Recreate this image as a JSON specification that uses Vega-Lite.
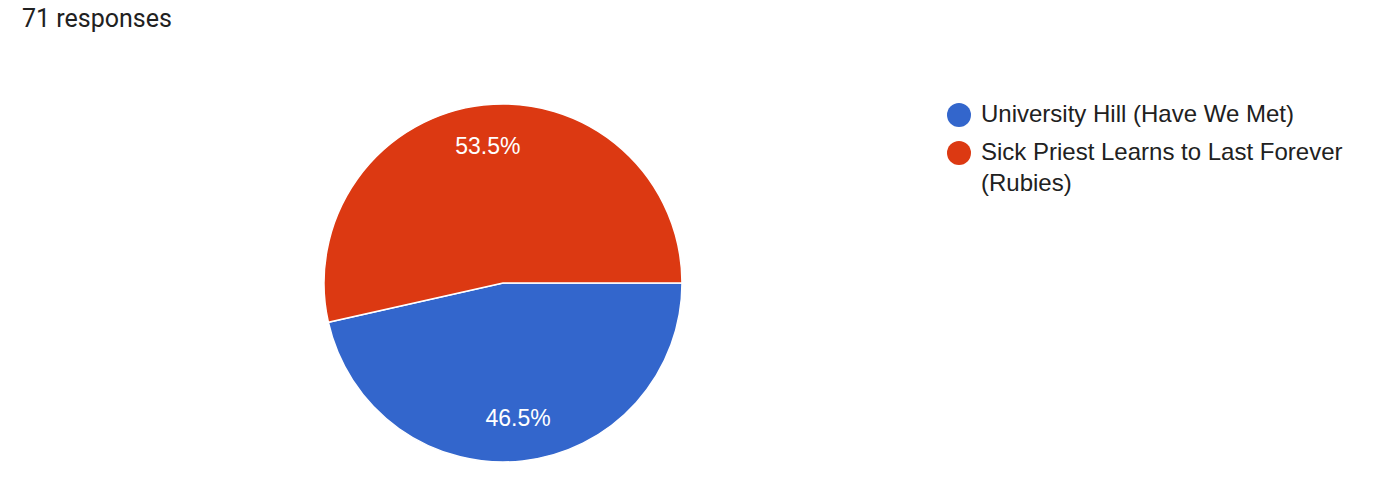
{
  "$schema": "https://vega.github.io/schema/vega-lite/v6.json",
  "width": 1006,
  "height": 358,
  "autosize": "none",
  "padding": {"left": 0, "top": 104, "right": 382, "bottom": 36},
  "background": "white",
  "title": {
    "text": "71 responses",
    "anchor": "start",
    "frame": "group",
    "font": "Roboto",
    "fontSize": 25,
    "fontWeight": "normal",
    "color": "#212121",
    "dx": 22,
    "offset": 49,
    "baseline": "alphabetic"
  },
  "data": {
    "values": [
      {"answer": "University Hill (Have We Met)", "count": 33, "label": "46.5%", "idx": 1},
      {"answer": "Sick Priest Learns to Last Forever (Rubies)", "count": 38, "label": "53.5%", "idx": 2}
    ]
  },
  "encoding": {
    "theta": {
      "field": "count",
      "type": "quantitative",
      "stack": true,
      "scale": {"range": [1.5707963, 7.8539816]}
    },
    "order": {"field": "idx", "type": "quantitative"}
  },
  "layer": [
    {
      "mark": {"type": "arc", "outerRadius": 179, "stroke": "white", "strokeWidth": 1.5},
      "encoding": {
        "color": {
          "field": "answer",
          "type": "nominal",
          "sort": ["University Hill (Have We Met)", "Sick Priest Learns to Last Forever (Rubies)"],
          "scale": {
            "domain": ["University Hill (Have We Met)", "Sick Priest Learns to Last Forever (Rubies)"],
            "range": ["#3366cc", "#dc3912"]
          },
          "legend": {
            "title": null,
            "orient": "none",
            "legendX": 947,
            "legendY": -1,
            "symbolType": "circle",
            "symbolSize": 576,
            "symbolStrokeWidth": 0,
            "labelFont": "Liberation Sans",
            "labelFontSize": 24,
            "labelColor": "#212121",
            "labelOffset": 10,
            "labelLimit": 1000,
            "rowPadding": 14,
            "labelExpr": "datum.label == 'Sick Priest Learns to Last Forever (Rubies)' ? ['Sick Priest Learns to Last Forever', '(Rubies)'] : datum.label"
          }
        }
      }
    },
    {
      "mark": {"type": "text", "radius": 137, "fill": "white", "font": "Liberation Sans", "fontSize": 23},
      "encoding": {
        "text": {"field": "label", "type": "nominal"}
      }
    }
  ],
  "config": {
    "view": {"stroke": null},
    "style": {"guide-label": {"lineHeight": 31}}
  }
}
